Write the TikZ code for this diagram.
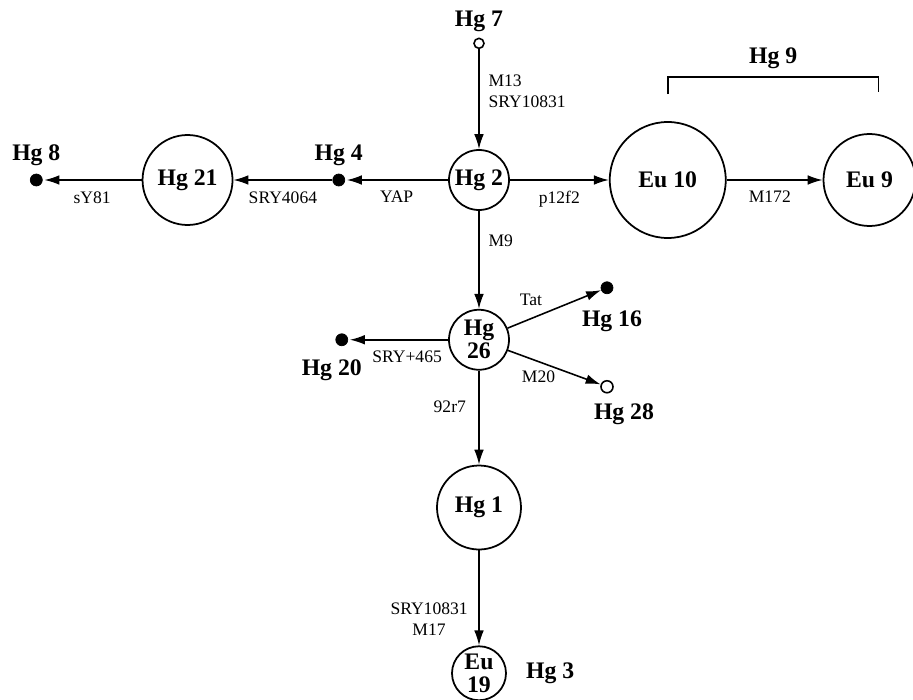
\documentclass[tikz,border=0pt]{standalone}
\usepackage{fontspec}
\setmainfont{Liberation Serif}
\usetikzlibrary{positioning,arrows.meta}

\begin{document}
\begin{tikzpicture}[
  hap/.style={circle,draw,line width=1pt,inner sep=0pt,align=center,font=\fontsize{13.5}{13}\selectfont\bfseries},
  tip/.style={circle,draw,fill,inner sep=0pt,minimum size=0.24cm},
  hollow/.style={circle,draw,fill=white,line width=0.9pt,inner sep=0pt,minimum size=0.24cm},
  hglabel/.style={font=\fontsize{13.5}{14}\selectfont\bfseries},
  mut/.style={font=\fontsize{10}{12}\selectfont,inner sep=2pt},
  link/.style={-{Latex[length=8.5pt,width=5.5pt]},line width=0.9pt}
]
  \useasboundingbox (-9.58,-10.4) rectangle (8.68,3.6);

  % main line
  \node[hap,minimum size=1.2cm] (hg2) at (0,0) {Hg 2};
  \node[hap,minimum size=2.32cm,right=1.98cm of hg2] (eu10) {Eu 10};
  \node[hap,minimum size=1.84cm,right=1.92cm of eu10] (eu9) {Eu 9};
  \node[tip,left=2.06cm of hg2,label={[hglabel,label distance=1pt]above:Hg 4}] (hg4) {};
  \node[hap,minimum size=1.8cm,left=1.98cm of hg4] (hg21) {Hg 21};
  \node[tip,left=1.98cm of hg21,label={[hglabel,label distance=1pt]above:Hg 8}] (hg8) {};
  \node[hollow,minimum size=0.2cm,above=2cm of hg2,label={[hglabel,label distance=0pt]above:Hg 7}] (hg7) {};

  % lower branch
  \node[hap,minimum size=1.2cm,below=1.96cm of hg2] (hg26) {Hg\\26};
  \node[tip,left=2cm of hg26,label={[hglabel,label distance=4pt,xshift=-0.2cm]below:Hg 20}] (hg20) {};
  \node[tip,label={[hglabel,label distance=6pt,xshift=0.1cm]below:Hg 16}] (hg16) at ([shift={(2.56,1.04)}]hg26) {};
  \node[hollow,label={[hglabel,label distance=2pt,xshift=0.34cm]below:Hg 28}] (hg28) at ([shift={(2.56,-0.94)}]hg26) {};
  \node[hap,minimum size=1.68cm,below=1.88cm of hg26] (hg1) {Hg 1};
  \node[hap,minimum size=1.08cm,below=1.9cm of hg1,label={[hglabel,label distance=0.26cm]right:Hg 3}] (eu19) {Eu\\19};

  % mutations
  \draw[link] (hg7) -- node[mut,right=3pt,align=left,pos=0.42] {M13\\SRY10831} (hg2);
  \draw[link] (hg2) -- node[mut,below=4pt] {p12f2} (eu10);
  \draw[link] (eu10) -- node[mut,below=4pt,pos=0.45] {M172} (eu9);
  \draw[link,shorten >=1pt] (hg2) -- node[mut,below=4pt] {YAP} (hg4);
  \draw[link] (hg4) -- node[mut,below=4pt] {SRY4064} (hg21);
  \draw[link,shorten >=1pt] (hg21) -- node[mut,below=4pt] {sY81} (hg8);
  \draw[link] (hg2) -- node[mut,right=3pt,pos=0.31] {M9} (hg26);
  \draw[link] (hg26) -- node[mut,above=5pt,pos=0.25] {Tat} (hg16);
  \draw[link] (hg26) -- node[mut,below=3pt,pos=0.33] {M20} (hg28);
  \draw[link,shorten >=1pt] (hg26) -- node[mut,below=4pt,pos=0.41] {SRY+465} (hg20);
  \draw[link] (hg26) -- node[mut,left=5pt,pos=0.38] {92r7} (hg1);
  \draw[link] (hg1) -- node[mut,left=4pt,align=center,pos=0.72] {SRY10831\\M17} (eu19);

  % Hg 9 bracket
  \draw[line width=0.9pt] ([yshift=0.54cm]eu10.north) -- ++(0,0.34)
    -| ([shift={(0.18cm,0.82cm)}]eu9.north) node[hglabel,pos=0.25,above=1pt] {Hg 9};
\end{tikzpicture}
\end{document}
